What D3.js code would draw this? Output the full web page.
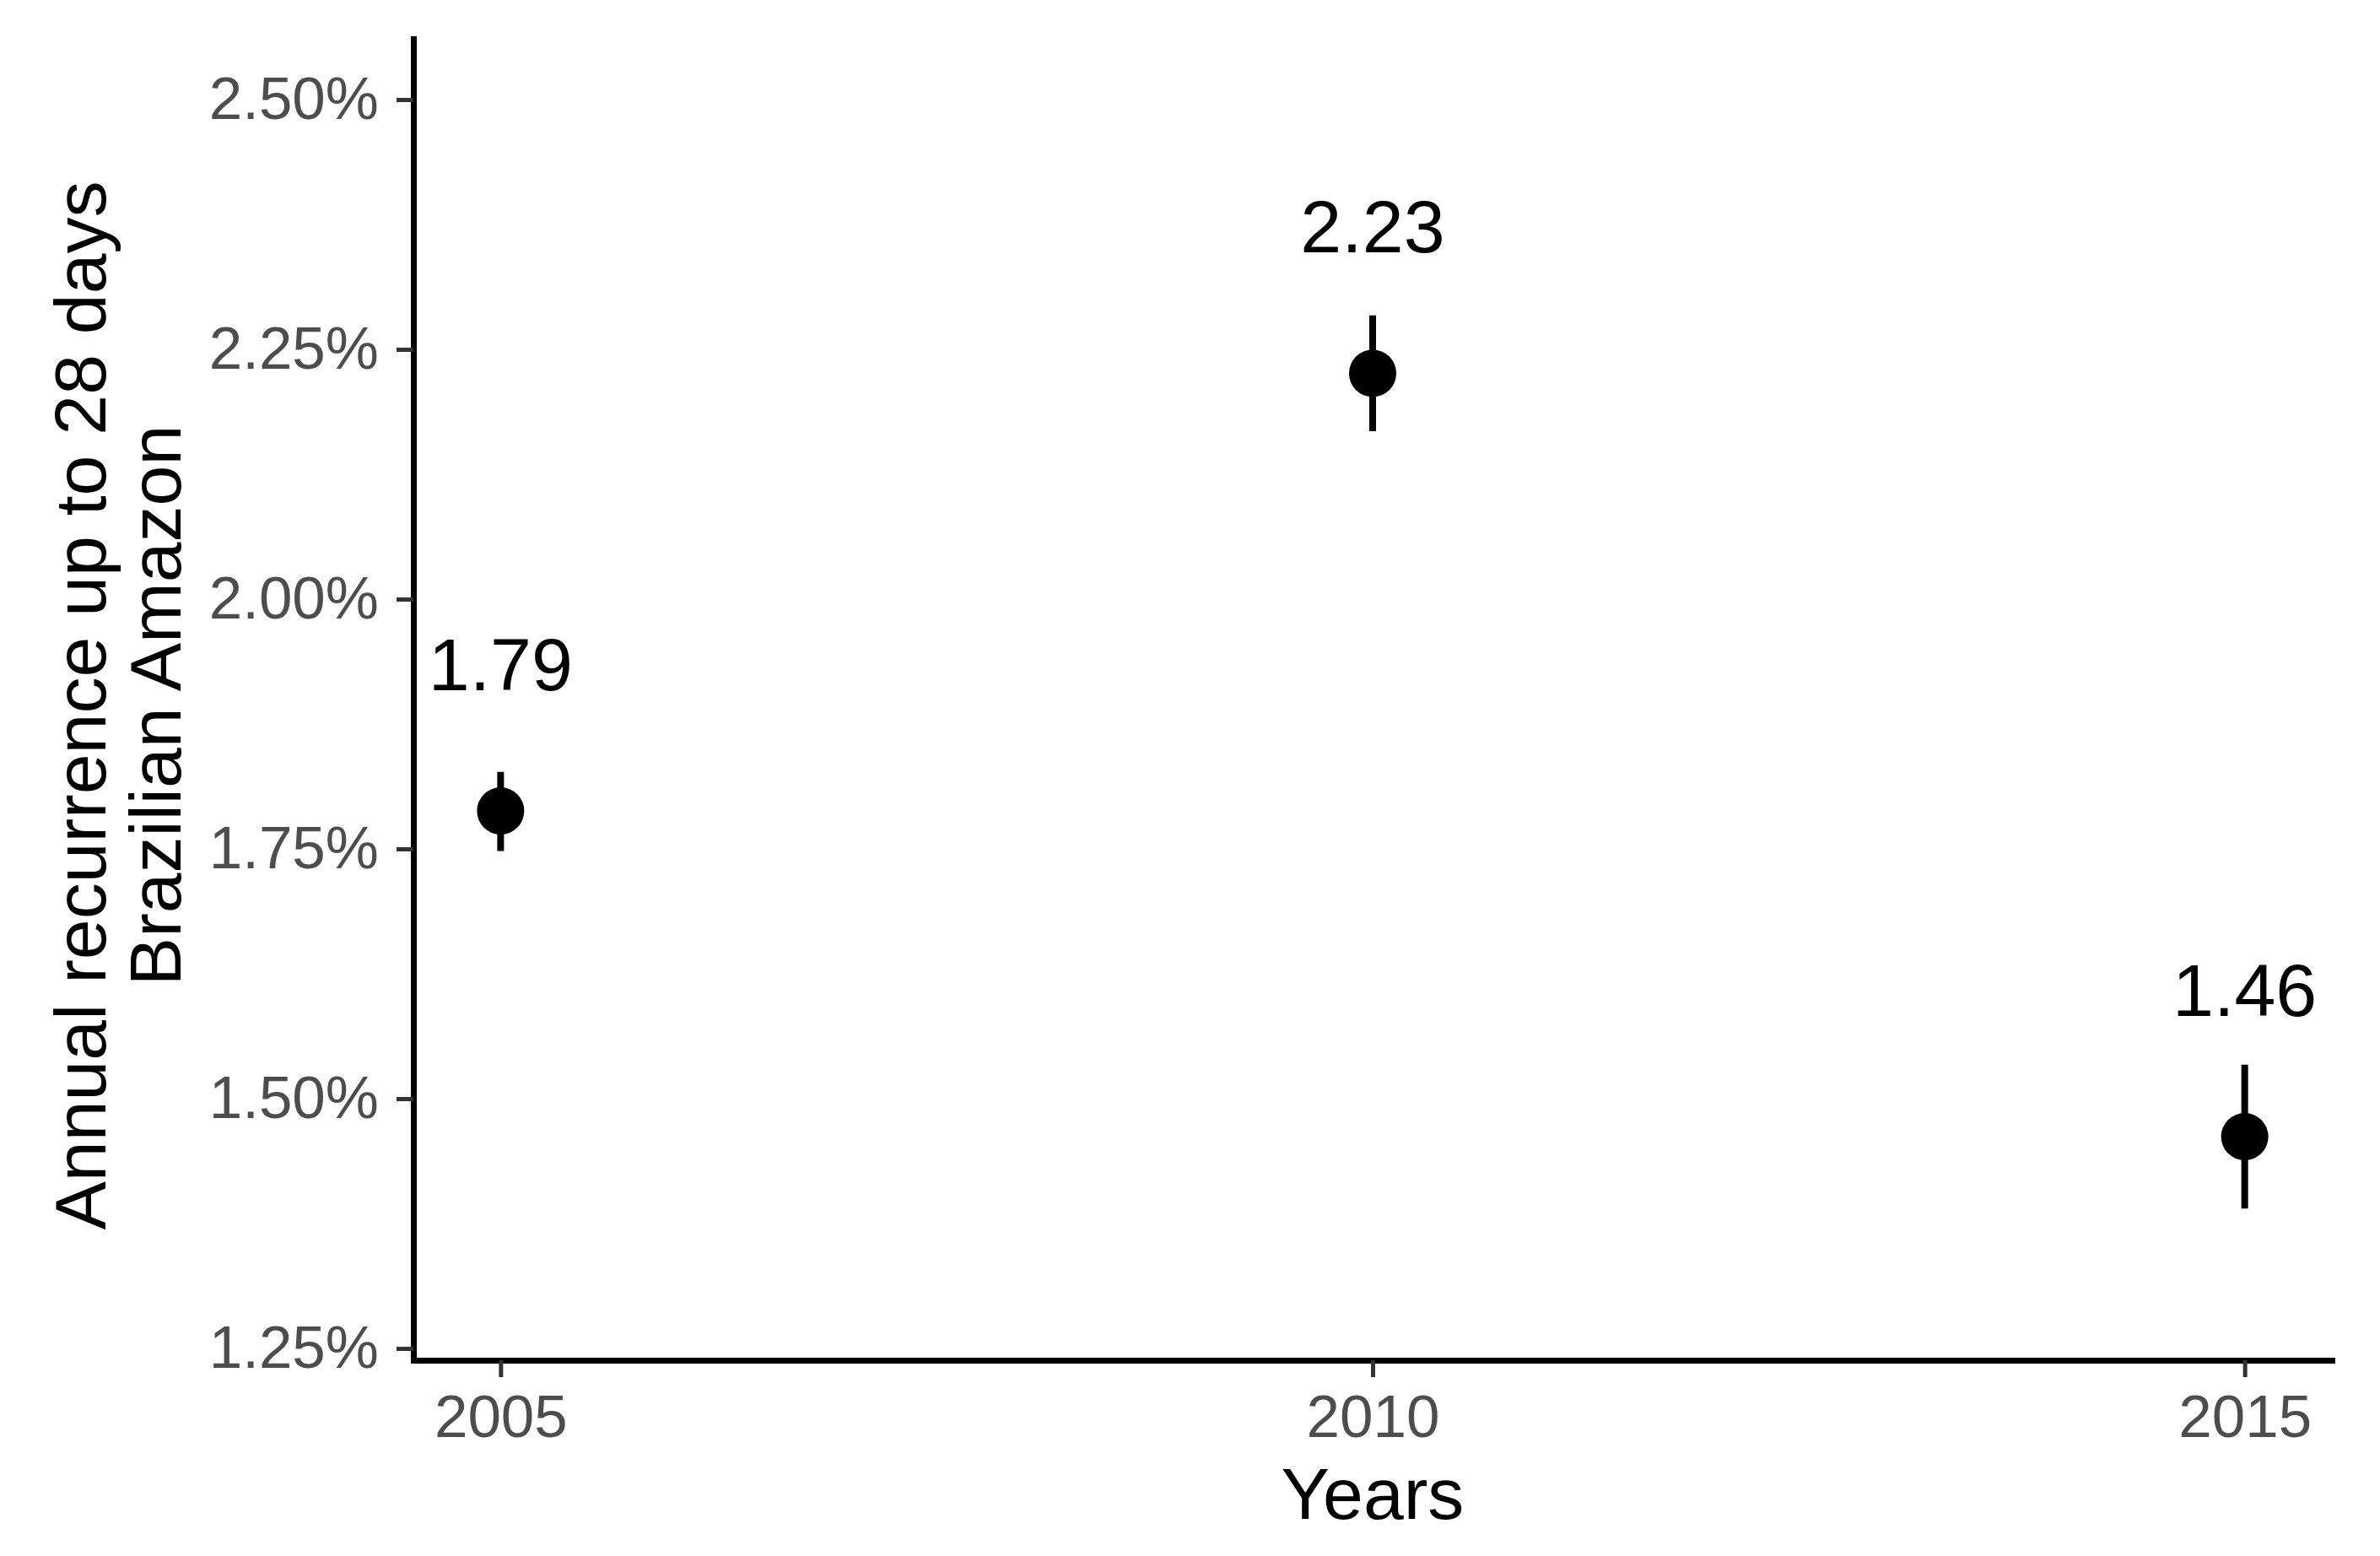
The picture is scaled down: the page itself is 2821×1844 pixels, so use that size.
<!DOCTYPE html>
<html>
<head>
<meta charset="utf-8">
<script src="https://cdn.jsdelivr.net/npm/d3@7"></script>
<style>
  body { margin: 0; background: #fff; }
  svg { display: block; font-family: "Liberation Sans", Arial, Helvetica, sans-serif; }
</style>
</head>
<body>
<svg id="chart" width="2821" height="1844"></svg>
<script>
// data
const years = [2005, 2010, 2015];
const recurrence = [1.788, 2.226, 1.462];   // annual recurrence, %
const lower = [1.748, 2.168, 1.390];
const upper = [1.827, 2.284, 1.534];
const yTicks = [1.25, 1.50, 1.75, 2.00, 2.25, 2.50];
const xTicks = [2005, 2010, 2015];

const svg = d3.select("#chart");
svg.append("rect").attr("width", 2821).attr("height", 1844).attr("fill", "#fff");

// panel
const panelLeft = 490, panelRight = 2764, panelTop = 46, panelBottom = 1612;

const x = d3.scaleLinear().domain([2004.5, 2015.5]).range([panelLeft, panelRight]);
const y = d3.scaleLinear().domain([1.2382, 2.5608]).range([panelBottom, panelTop]);

// axes
const yAxis = svg.append("g")
    .attr("transform", `translate(${panelLeft},0)`)
    .call(d3.axisLeft(y)
        .tickValues(yTicks)
        .tickFormat(d => d.toFixed(2) + "%")
        .tickSize(20)
        .tickSizeOuter(0)
        .tickPadding(21));

const xAxis = svg.append("g")
    .attr("transform", `translate(0,${panelBottom})`)
    .call(d3.axisBottom(x)
        .tickValues(xTicks)
        .tickFormat(d3.format("d"))
        .tickSize(20)
        .tickSizeOuter(0)
        .tickPadding(21));

[yAxis, xAxis].forEach(g => {
    g.select(".domain").attr("stroke", "#000").attr("stroke-width", 7).attr("stroke-linecap", "square");
    g.selectAll(".tick line").attr("stroke", "#333").attr("stroke-width", 5);
    g.selectAll(".tick text")
        .attr("fill", "#4d4d4d")
        .attr("font-size", 71)
        .attr("font-family", "Liberation Sans, Arial, sans-serif");
});

// error bars
const rows = years.map((yr, i) => ({ yr: yr, v: recurrence[i], lo: lower[i], hi: upper[i] }));

svg.append("g").selectAll("line")
    .data(rows)
    .join("line")
    .attr("x1", d => x(d.yr))
    .attr("x2", d => x(d.yr))
    .attr("y1", d => y(d.hi))
    .attr("y2", d => y(d.lo))
    .attr("stroke", "#000")
    .attr("stroke-width", 8);

// points
svg.append("g").selectAll("circle")
    .data(rows)
    .join("circle")
    .attr("cx", d => x(d.yr))
    .attr("cy", d => y(d.v))
    .attr("r", 28)
    .attr("fill", "#000");

// value labels
svg.append("g").selectAll("text")
    .data(rows)
    .join("text")
    .attr("x", d => x(d.yr))
    .attr("y", d => y(d.v) - 143)
    .attr("text-anchor", "middle")
    .attr("font-size", 88)
    .attr("fill", "#000")
    .text(d => d3.format(".2f")(d.v));

// axis titles
svg.append("text")
    .attr("x", (panelLeft + panelRight) / 2)
    .attr("y", 1800)
    .attr("text-anchor", "middle")
    .attr("font-size", 86)
    .attr("fill", "#000")
    .text("Years");

const yTitle = svg.append("g").attr("transform", "translate(0,836) rotate(-90)");
yTitle.append("text")
    .attr("x", 0).attr("y", 125)
    .attr("text-anchor", "middle")
    .attr("font-size", 86)
    .attr("fill", "#000")
    .text("Annual recurrence up to 28 days");
yTitle.append("text")
    .attr("x", 0).attr("y", 214)
    .attr("text-anchor", "middle")
    .attr("font-size", 86)
    .attr("fill", "#000")
    .text("Brazilian Amazon");
</script>
</body>
</html>
